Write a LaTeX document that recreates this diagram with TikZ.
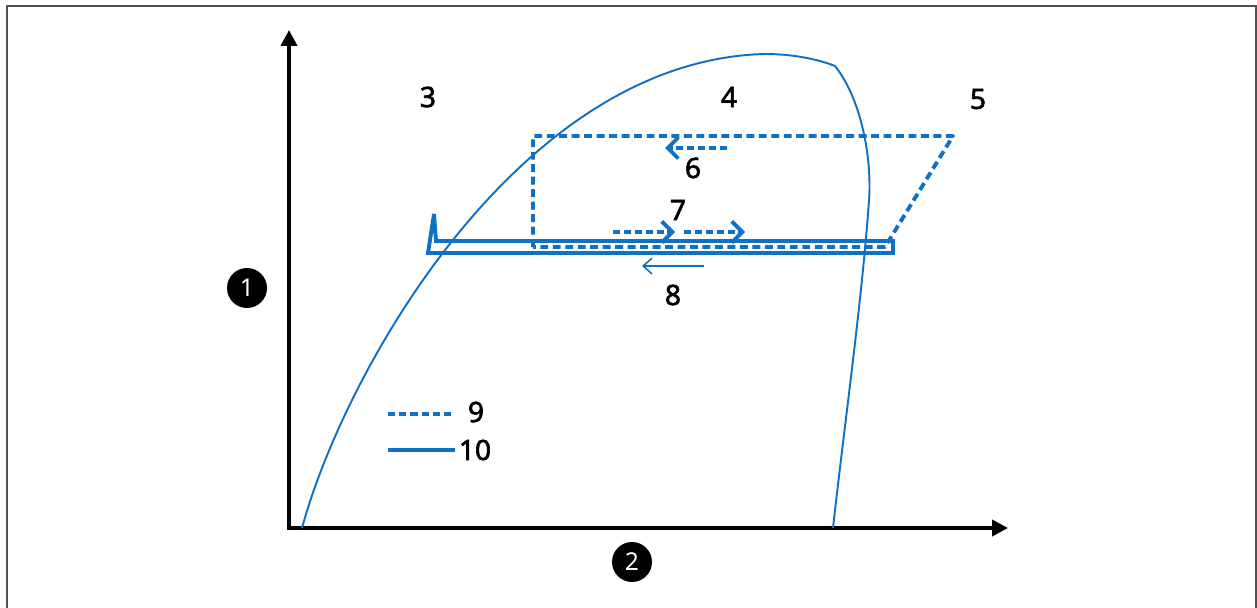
\documentclass[tikz,border=0pt]{standalone}
\usepackage{fontspec}
\setmainfont{Noto Sans}
\usetikzlibrary{arrows.meta,positioning}
\definecolor{curveblue}{HTML}{1070C4}
\definecolor{framegray}{HTML}{505050}
\newfontfamily\labelfont[FakeBold=2.2]{Noto Sans}

\begin{document}
\begin{tikzpicture}[x=0.02cm, y=-0.02cm,
  axis/.style={line width=2.3pt, {Triangle[length=9pt,width=9pt]}-{Triangle[length=9pt,width=9pt]}},
  dome/.style={curveblue, line width=1.1pt},
  cycledash/.style={curveblue, line width=2.2pt, dash pattern=on 4.5pt off 2.6pt, line join=round},
  cyclesolid/.style={curveblue, line width=2.2pt, line join=miter, miter limit=4},
  flow/.style={curveblue, line width=2.2pt, dash pattern=on 4pt off 2.2pt,
    -{Straight Barb[length=6pt,width=12pt]}},
  thinflow/.style={curveblue, line width=0.9pt, -{Straight Barb[length=5pt,width=9pt]}},
  lbl/.style={font=\labelfont\fontsize{16}{19}\selectfont},
  badge/.style={circle, fill=black, text=white, inner sep=0pt, minimum size=0.8cm,
    font=\fontsize{14}{16}\selectfont\bfseries}]
  \useasboundingbox (0,0) rectangle (1257,608);
  % frame
  \draw[framegray, line width=1.2pt] (7,610) -- (7,6) -- (1256,6) -- (1256,610);

  % axes
  \coordinate (ytop) at (289,30);
  \coordinate (origin) at (289,528);
  \coordinate (xend) at (1008,528);
  \draw[axis] (ytop) -- (origin) -- (xend);
  \node[badge] (ylab) at (247,288) {1};
  \node[badge] (xlab) at (632,562) {2};

  % saturation dome
  \draw[dome] (302,528) .. controls (345,370) and (520,60) .. (765,54)
    .. controls (795,54) and (820,60) .. (835,66)
    .. controls (862,100) and (872,160) .. (869,200)
    .. controls (862,300) and (845,420) .. (833,528);

  % cycles
  \draw[cycledash] (533,247) -- (533,136) -- (953,136) -- (885,247) -- cycle;
  \draw[cyclesolid] (893,241) -- (436,241) -- (434,214) -- (428,253) -- (893,253) -- cycle;

  % flow arrows
  \coordinate (a6s) at (727,148); \coordinate (a6e) at (665,148);
  \coordinate (a7s) at (613,232); \coordinate (a7e) at (675,232);
  \coordinate (b7s) at (684,232); \coordinate (b7e) at (745,232);
  \coordinate (a8s) at (704,266); \coordinate (a8e) at (642,266);
  \draw[flow] (a6s) -- (a6e);
  \draw[flow] (a7s) -- (a7e);
  \draw[flow] (b7s) -- (b7e);
  \draw[thinflow] (a8s) -- (a8e);

  % labels
  \node[lbl] (l3) at (428,97) {3};
  \node[lbl] (l4) at (729,97) {4};
  \node[lbl] (l5) at (978,99) {5};
  \node[lbl] (l6) at (693,168) {6};
  \node[lbl] (l7) at (678,210) {7};
  \node[lbl] (l8) at (673,295) {8};

  % legend
  \coordinate (k9s) at (388,414); \coordinate (k9e) at (455,414);
  \coordinate (k10s) at (388,450); \coordinate (k10e) at (455,450);
  \draw[cycledash, dash pattern=on 4pt off 2.4pt] (k9s) -- (k9e);
  \draw[cyclesolid] (k10s) -- (k10e);
  \node[lbl] (l9) at (476,412) {9};
  \node[lbl] (l10) at (475,450) {10};
\end{tikzpicture}
\end{document}
